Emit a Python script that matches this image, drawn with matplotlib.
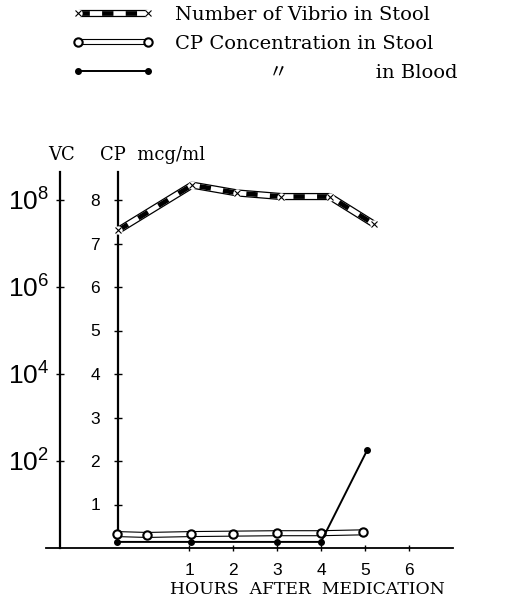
import matplotlib
matplotlib.use("Agg")
import matplotlib.pyplot as plt
from matplotlib import font_manager
from matplotlib.lines import Line2D
from matplotlib.legend_handler import HandlerTuple
from matplotlib.ticker import NullLocator

# ---------------- data ----------------
# hours after medication (first point sits on the CP axis = before medication)
vibrio_hours = [-0.61, 1.07, 2.1, 3.1, 4.2, 5.2]
vibrio_count = [2.0e7, 2.2e8, 1.45e8, 1.2e8, 1.2e8, 2.8e7]

stool_hours = [-0.64, 0.05, 1.05, 2.0, 3.0, 4.0, 4.95]
stool_cp = [0.32, 0.30, 0.32, 0.33, 0.34, 0.34, 0.36]

blood_hours = [-0.64, 1.05, 3.0, 4.0, 5.05]
blood_cp = [0.14, 0.14, 0.14, 0.14, 2.25]

hour_ticks = [1, 2, 3, 4, 5, 6]
cp_ticks = [1, 2, 3, 4, 5, 6, 7, 8]
vc_ticks = [1e2, 1e4, 1e6, 1e8]
vc_labels = [r"$10^{2}$", r"$10^{4}$", r"$10^{6}$", r"$10^{8}$"]

legend_labels = ["Number of Vibrio in Stool",
                 "CP Concentration in Stool",
                 " " * 15 + "\u3003" + " " * 14 + "in Blood"]

# ---------------- fonts ----------------
names = {f.name for f in font_manager.fontManager.ttflist}
narrow = "Liberation Sans Narrow" if "Liberation Sans Narrow" in names else "Liberation Sans"
plt.rcParams["mathtext.fontset"] = "custom"
plt.rcParams["mathtext.rm"] = narrow
plt.rcParams["mathtext.it"] = narrow
plt.rcParams["mathtext.default"] = "rm"
SERIF = ["DejaVu Serif", "Noto Sans CJK JP"]

W, H = 524, 609
fig = plt.figure(figsize=(W / 100, H / 100), dpi=100)
ax = fig.add_axes([0, 0, 1, 1])

# pixel mapping: x_px = 145 + 44*h ; y_px(from top) = 548 - 43.5*cp
def px2h(px):
    return (px - 145) / 44.0

def py2cp(py):
    return (548 - py) / 43.5

ax.set_xlim(px2h(0), px2h(W))
ax.set_ylim(py2cp(H), py2cp(0))
ax.patch.set_visible(False)

for s in ("top", "right"):
    ax.spines[s].set_visible(False)
ax.spines["left"].set_position(("data", px2h(118)))
ax.spines["left"].set_bounds(0.3, py2cp(172))
ax.spines["left"].set_linewidth(1.6)
ax.spines["bottom"].set_position(("data", 0))
ax.spines["bottom"].set_bounds(px2h(46), px2h(453))
ax.spines["bottom"].set_linewidth(1.3)

ax.set_yticks(cp_ticks)
ax.set_yticklabels([str(v) for v in cp_ticks])
ax.set_xticks(hour_ticks)
ax.set_xticklabels([str(v) for v in hour_ticks])
ax.tick_params(axis="y", direction="inout", length=6, width=1.0, pad=10,
               labelsize=12.5)
ax.tick_params(axis="x", direction="inout", length=4, width=1.0, pad=9,
               labelsize=12.5)
for lab in ax.get_xticklabels() + ax.get_yticklabels():
    lab.set_fontfamily("Liberation Sans")

# VC (log) axis
ax2 = ax.twinx()
ax2.set_yscale("log")
y0, y1 = ax.get_ylim()
ax2.set_ylim(10 ** y0, 10 ** y1)
for s in ("top", "bottom", "right"):
    ax2.spines[s].set_visible(False)
ax2.spines["left"].set_visible(True)
ax2.spines["left"].set_position(("data", px2h(60)))
ax2.spines["left"].set_bounds(1, 10 ** py2cp(172))
ax2.spines["left"].set_linewidth(1.6)
ax2.yaxis.set_ticks_position("left")
ax2.set_yticks(vc_ticks)
ax2.set_yticklabels(vc_labels)
ax2.yaxis.set_minor_locator(NullLocator())
ax2.tick_params(axis="y", direction="inout", length=6, width=1.0, pad=5,
                labelsize=19)

# ---------------- series ----------------
# vibrio: banded line with x markers
ax2.plot(vibrio_hours, vibrio_count, color="black", lw=5.2,
         solid_capstyle="butt", zorder=3)
ax2.plot(vibrio_hours, vibrio_count, color="white", lw=3.4,
         solid_capstyle="butt", zorder=3.1)
ax2.plot(vibrio_hours, vibrio_count, color="black", lw=3.4,
         dashes=(2.4, 2.6), dash_capstyle="butt", zorder=3.2)
ax2.plot(vibrio_hours, vibrio_count, ls="none", marker="o", ms=6,
         mfc="white", mec="none", zorder=3.3)
ax2.plot(vibrio_hours, vibrio_count, ls="none", marker="x", ms=4,
         mew=0.8, color="black", zorder=3.4)

# CP in stool: double (tube) line with open circles
ax.plot(stool_hours, stool_cp, color="black", lw=4.4,
        solid_capstyle="butt", zorder=3)
ax.plot(stool_hours, stool_cp, color="white", lw=2.8,
        solid_capstyle="butt", zorder=3.1)
ax.plot(stool_hours, stool_cp, ls="none", marker="o", ms=6, mfc="white",
        mec="black", mew=1.5, zorder=3.2)

# CP in blood
ax.plot(blood_hours, blood_cp, color="black", lw=1.4, marker="o", ms=4,
        zorder=4)

# ---------------- texts ----------------
def fx(px):
    return px / W

def fy(py):
    return 1 - py / H

fig.text(fx(62), fy(160), "VC", family=SERIF, fontsize=13, ha="center",
         va="baseline")
fig.text(fx(100), fy(160), "CP  mcg/ml", family=SERIF, fontsize=13,
         ha="left", va="baseline")
fig.text(fx(307), fy(594), "HOURS  AFTER  MEDICATION", family=SERIF,
         fontsize=12.4, ha="center", va="baseline")

# ---------------- legend ----------------
h_vib = (Line2D([], [], color="black", lw=5.2, solid_capstyle="butt"),
         Line2D([], [], color="white", lw=3.4, solid_capstyle="butt"),
         Line2D([], [], color="black", lw=3.4, dashes=(2.4, 2.6)),
         Line2D([], [], ls="none", marker="o", ms=6, mfc="white", mec="none"),
         Line2D([], [], ls="none", marker="x", ms=4, mew=0.8, color="black"))
h_stool = (Line2D([], [], color="black", lw=4.4, solid_capstyle="butt"),
           Line2D([], [], color="white", lw=2.8, solid_capstyle="butt"),
           Line2D([], [], ls="none", marker="o", ms=6, mfc="white",
                  mec="black", mew=1.5))
h_blood = Line2D([], [], color="black", lw=1.4, marker="o", ms=4)

leg = fig.legend([h_vib, h_stool, h_blood], legend_labels,
                 handler_map={tuple: HandlerTuple(ndivide=1, pad=0)},
                 numpoints=2, loc="upper left",
                 bbox_to_anchor=(fx(72), fy(6)), borderaxespad=0,
                 borderpad=0, frameon=False, handlelength=4.2,
                 handletextpad=1.1, labelspacing=0.56,
                 prop={"family": SERIF, "size": 14})

fig.savefig("out.png", dpi=100)
